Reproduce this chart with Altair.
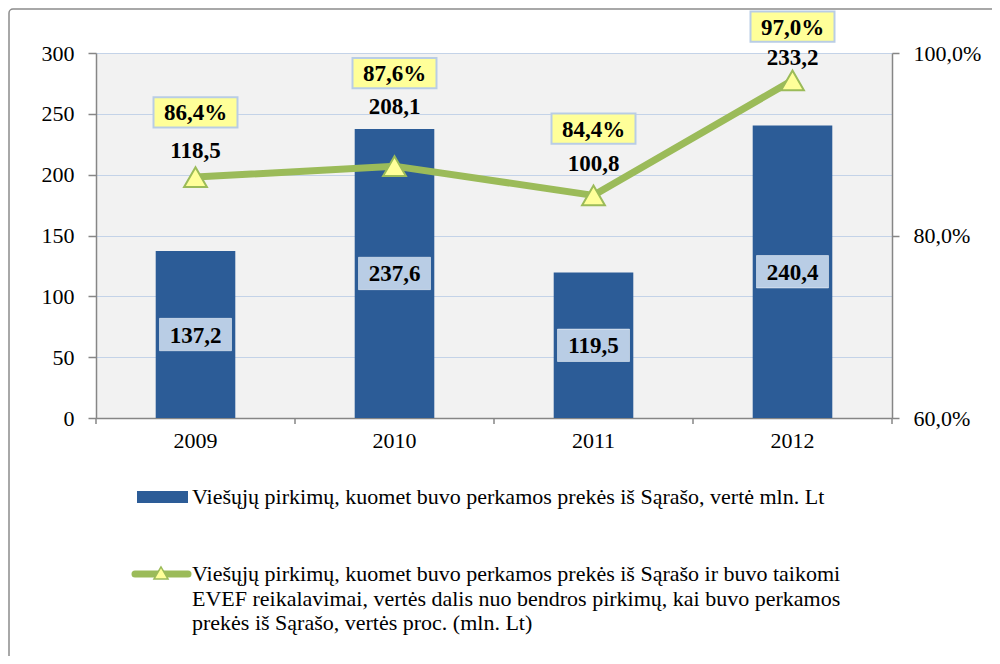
import altair as alt
import pandas as pd

# ---------------- data ----------------
years = ["2009", "2010", "2011", "2012"]
bar_values = [137.2, 237.6, 119.5, 240.4]          # mln. Lt
line_pct = [86.4, 87.6, 84.4, 97.0]                # %
line_values = [118.5, 208.1, 100.8, 233.2]         # mln. Lt
left_ticks = [0, 50, 100, 150, 200, 250, 300]
right_ticks = [60, 80, 100]
legend_bar = "Viešųjų pirkimų, kuomet buvo perkamos prekės iš Sąrašo, vertė mln. Lt"
legend_line = [
    "Viešųjų pirkimų, kuomet buvo perkamos prekės iš Sąrašo ir buvo taikomi",
    "EVEF reikalavimai, vertės dalis nuo bendros pirkimų, kai buvo perkamos",
    "prekės iš Sąrašo, vertės proc. (mln. Lt)",
]

# hand placement of the line labels above each marker (in % units), as in the original
num_lift = [3.0, 6.6, 3.5, 2.6]
pct_lift = [7.1, 10.2, 7.3, 5.9]


def lt(v):
    return f"{v:.1f}".replace(".", ",")


df = pd.DataFrame({"year": years, "bar": bar_values, "pct": line_pct, "val": line_values})
df["bar_mid"] = df["bar"] / 2
df["bar_label"] = [lt(v) for v in bar_values]
df["num_label"] = [lt(v) for v in line_values]
df["pct_label"] = [lt(v) + "%" for v in line_pct]
df["num_y"] = [p + l for p, l in zip(line_pct, num_lift)]
df["pct_y"] = [p + l for p, l in zip(line_pct, pct_lift)]

one = pd.DataFrame({"k": [0]})

# ---------------- style ----------------
W, H = 796, 365
FONT = "Liberation Serif, Times New Roman, DejaVu Serif, serif"
BAR = "#2c5c97"
GREEN = "#9bbb59"
YELLOW = "#ffff99"
LBLUE = "#b9cde5"
GRAY = "#868686"
step = W / len(years)

xenc = alt.X(
    "year:N",
    title=None,
    sort=years,
    scale=alt.Scale(paddingInner=0.6, paddingOuter=0.3),
    axis=alt.Axis(
        labelFont=FONT, labelFontSize=22, labelColor="black", labelPadding=12,
        ticks=False, domainColor=GRAY, domainWidth=1.5, labelAngle=0,
    ),
)

yleft = alt.Y(
    "bar:Q",
    title=None,
    scale=alt.Scale(domain=[0, 300], nice=False),
    axis=alt.Axis(
        values=left_ticks, labelFont=FONT, labelFontSize=22, labelColor="black",
        tickSize=8, tickColor=GRAY, tickWidth=1.5, domainColor=GRAY, domainWidth=1.5,
        gridColor="#c4d3e8", gridWidth=1.2, labelPadding=14,
    ),
)

base = alt.Chart(df)

bars = base.mark_bar(color=BAR).encode(x=xenc, y=yleft)

bar_box = base.mark_point(
    shape="M-1,-0.45L1,-0.45L1,0.45L-1,0.45Z", size=72 * 72, filled=True,
    fill=LBLUE, stroke="white", strokeWidth=0.5, opacity=1,
).encode(x=alt.X("year:N", sort=years), y=alt.Y("bar_mid:Q"))

bar_text = base.mark_text(
    font=FONT, fontSize=23, fontWeight="bold", color="black", baseline="middle", dy=1,
).encode(x=alt.X("year:N", sort=years), y=alt.Y("bar_mid:Q"), text="bar_label:N")

# category boundary ticks on the x axis
ticks_mid = base.mark_rule(color=GRAY, strokeWidth=1.5, xOffset=-step / 2).encode(
    x=alt.X("year:N", sort=years), y=alt.value(H), y2=alt.value(H + 6)
)
tick_end = alt.Chart(one).mark_rule(color=GRAY, strokeWidth=1.5).encode(
    x=alt.value(W), y=alt.value(H), y2=alt.value(H + 6)
)

left_layer = alt.layer(bars, bar_box, bar_text, ticks_mid, tick_end)

yright = alt.Y(
    "pct:Q",
    title=None,
    scale=alt.Scale(domain=[60, 100], nice=False),
    axis=alt.Axis(
        orient="right", values=right_ticks, grid=False,
        labelExpr="replace(format(datum.value, '.1f'), '.', ',') + '%'",
        labelFont=FONT, labelFontSize=22, labelColor="black",
        tickSize=7, tickColor=GRAY, tickWidth=1.5, domainColor=GRAY, domainWidth=1.5,
        labelPadding=14,
    ),
)

line = base.mark_line(color=GREEN, strokeWidth=7).encode(x=alt.X("year:N", sort=years), y=yright)
markers = base.mark_point(
    shape="triangle-up", size=520, filled=True, fill=YELLOW, stroke=GREEN,
    strokeWidth=2, opacity=1,
).encode(x=alt.X("year:N", sort=years), y=alt.Y("pct:Q"))

num_text = base.mark_text(
    font=FONT, fontSize=23, fontWeight="bold", color="black", baseline="middle", dy=1,
).encode(x=alt.X("year:N", sort=years), y=alt.Y("num_y:Q"), text="num_label:N")

pct_box = base.mark_point(
    shape="M-1,-0.36L1,-0.36L1,0.36L-1,0.36Z", size=84 * 84, filled=True,
    fill=YELLOW, stroke=LBLUE, strokeWidth=2, opacity=1,
).encode(x=alt.X("year:N", sort=years), y=alt.Y("pct_y:Q"))

pct_text = base.mark_text(
    font=FONT, fontSize=23, fontWeight="bold", color="black", baseline="middle", dy=1,
).encode(x=alt.X("year:N", sort=years), y=alt.Y("pct_y:Q"), text="pct_label:N")

right_layer = alt.layer(line, markers, num_text, pct_box, pct_text)

# ---------------- legend (drawn by hand below the plot) ----------------
leg_rect = alt.Chart(one).mark_rect(color=BAR).encode(
    x=alt.value(41), x2=alt.value(92), y=alt.value(438), y2=alt.value(450)
)
leg_text1 = alt.Chart(one).mark_text(
    font=FONT, fontSize=22, color="black", align="left", baseline="middle", text=legend_bar
).encode(x=alt.value(96), y=alt.value(444))

leg_line = alt.Chart(one).mark_rule(color=GREEN, strokeWidth=7, strokeCap="round").encode(
    x=alt.value(39), x2=alt.value(92), y=alt.value(521)
)
leg_tri = alt.Chart(one).mark_point(
    shape="triangle-up", size=200, filled=True, fill=YELLOW, stroke=GREEN,
    strokeWidth=1.5, opacity=1,
).encode(x=alt.value(65), y=alt.value(520))
leg_text2 = alt.Chart(one).mark_text(
    font=FONT, fontSize=22, color="black", align="left", baseline="alphabetic",
    lineHeight=24.5, text=legend_line,
).encode(x=alt.value(96), y=alt.value(528))

border = alt.Chart(one).mark_rect(
    fill=None, filled=False, stroke="#8c8c8c", strokeWidth=1.5, cornerRadius=4
).encode(x=alt.value(-87), x2=alt.value(1000), y=alt.value(-44), y2=alt.value(700))

legend_layer = alt.layer(leg_rect, leg_text1, leg_line, leg_tri, leg_text2, border)

chart = (
    alt.layer(left_layer, right_layer, legend_layer)
    .resolve_scale(y="independent")
    .properties(
        width=W,
        height=H,
        autosize=alt.AutoSizeParams(type="none"),
        padding={"left": 88, "top": 45, "right": 100, "bottom": 238},
        background="white",
    )
    .configure_view(fill="#f2f2f2", stroke=None)
)

chart.save("out.html", embed_options={"renderer": "svg", "actions": False})
